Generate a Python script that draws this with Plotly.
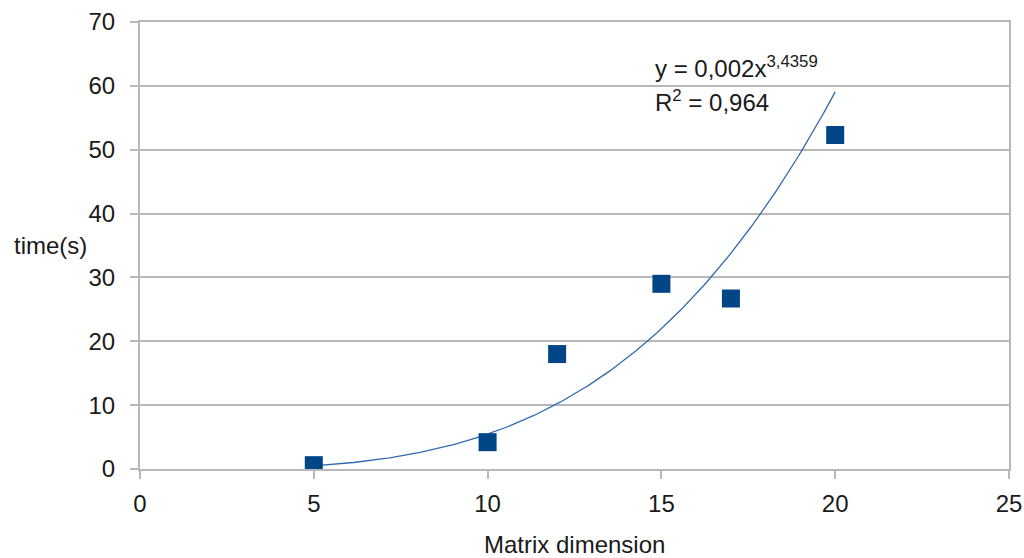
import numpy as np
import plotly.graph_objects as go

# Data
matrix_dim = [5, 10, 12, 15, 17, 20]
time_s = [0.6, 4.2, 18.0, 29.0, 26.7, 52.3]

# Power trendline as stated on the chart: y = 0,002 x^3,4359 ; R^2 = 0,964
trend_coef = 0.002
trend_exp = 3.4359
trend_label = "y = 0,002x<sup>3,4359</sup>"
r2_label = "R<sup>2</sup> = 0,964"

x_ticks = [0, 5, 10, 15, 20, 25]
y_ticks = [0, 10, 20, 30, 40, 50, 60, 70]

trend_x = np.linspace(min(matrix_dim), max(matrix_dim), 200)
trend_y = trend_coef * trend_x ** trend_exp

FONT = "Liberation Sans, Arial, sans-serif"
GRID = "#b8b8b8"
TXT = "#1a1a1a"
FS = 24

H, W = 558, 1024
ml, mr, mt, mb = 140, 15, 22, 89
pw = W - ml - mr
ph = H - mt - mb

fig = go.Figure()
fig.add_trace(go.Scatter(
    x=trend_x, y=trend_y, mode="lines",
    line=dict(color="#2f6ab0", width=1.3),
    hoverinfo="skip", showlegend=False,
))
fig.add_trace(go.Scatter(
    x=matrix_dim, y=time_s, mode="markers",
    marker=dict(symbol="square", size=18, color="#004586",
                line=dict(width=0)),
    showlegend=False,
))

fig.update_xaxes(
    range=[0, 25], tickvals=x_ticks, showgrid=False, zeroline=False,
    showline=True, mirror=True, linecolor=GRID, linewidth=2,
    ticks="outside", ticklen=8, tickcolor=GRID, tickwidth=2,
    tickfont=dict(family=FONT, size=FS, color=TXT),
    ticklabelstandoff=4, automargin=False,
)
fig.update_yaxes(
    range=[0, 70], tickvals=y_ticks, showgrid=True, gridcolor=GRID,
    gridwidth=2, zeroline=False,
    showline=True, mirror=True, linecolor=GRID, linewidth=2,
    ticks="outside", ticklen=8, tickcolor=GRID, tickwidth=2,
    tickfont=dict(family=FONT, size=FS, color=TXT),
    ticklabelstandoff=10, automargin=False,
)

fig.add_annotation(x=14.75, y=(469 - 67) / ph * 70, xref="x", yref="y",
                   text=trend_label,
                   showarrow=False, xanchor="left", yanchor="middle",
                   font=dict(family=FONT, size=FS, color=TXT))
fig.add_annotation(x=14.75, y=(469 - 101) / ph * 70, xref="x", yref="y",
                   text=r2_label,
                   showarrow=False, xanchor="left", yanchor="middle",
                   font=dict(family=FONT, size=FS, color=TXT))
fig.add_annotation(x=(12 - ml) / pw, y=(H - mb - 245) / ph,
                   xref="paper", yref="paper", text="time(s)",
                   showarrow=False, xanchor="left", yanchor="middle",
                   font=dict(family=FONT, size=FS, color=TXT))
fig.add_annotation(x=0.5, y=(H - mb - 544) / ph, xref="paper", yref="paper",
                   text="Matrix dimension",
                   showarrow=False, xanchor="center", yanchor="middle",
                   font=dict(family=FONT, size=FS, color=TXT))

fig.update_layout(
    width=W, height=H,
    margin=dict(l=ml, r=mr, t=mt, b=mb, autoexpand=False),
    paper_bgcolor="white", plot_bgcolor="white",
    font=dict(family=FONT, color=TXT),
)

fig.write_html("out.html")
